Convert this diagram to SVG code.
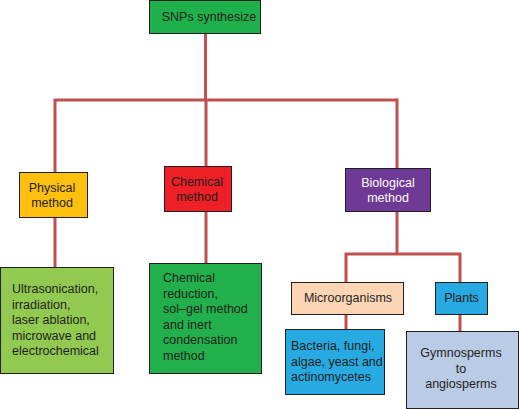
<svg xmlns="http://www.w3.org/2000/svg" width="520" height="409" viewBox="0 0 520 409">
<style>
.box{stroke:#231f20;stroke-width:1}
.t{font-family:"Liberation Sans",Arial,sans-serif;font-size:12.5px;fill:#231f20}
.c{text-anchor:middle}
.w{fill:#ffffff}
.ln{fill:none;stroke:#c0504d;stroke-width:3;stroke-linejoin:miter}
</style>
<rect width="520" height="409" fill="#ffffff"/>
<g id="connectors">
<path class="ln" d="M205.5,33 V100 M55,217 V100 H397 V168 M206,100 V166 M55,217 V267 M206,212 V263 M397,212 V254 M346,282 V254 H460 V282 M346,314 V329 M460,314 V331"/>
</g>
<g id="root">
<rect class="box" x="149.5" y="0.5" width="111" height="33" fill="#20b04b"/>
<text class="t c" x="209" y="20.5">SNPs synthesize</text>
</g>
<g id="physical">
<rect class="box" x="19.5" y="172.5" width="68" height="45" fill="#fdc00f"/>
<text class="t c" x="52" y="192">Physical</text>
<text class="t c" x="52" y="207">method</text>
</g>
<g id="chemical">
<rect class="box" x="164.5" y="166.5" width="67" height="45" fill="#ee1f26"/>
<text class="t c" x="197" y="186">Chemical</text>
<text class="t c" x="197" y="201">method</text>
</g>
<g id="biological">
<rect class="box" x="345.5" y="168.5" width="85" height="43" fill="#6f3996"/>
<text class="t c w" x="388" y="187">Biological</text>
<text class="t c w" x="388" y="202">method</text>
</g>
<g id="physical-list">
<rect class="box" x="0.5" y="267.5" width="113" height="106" fill="#92c951"/>
<text class="t" x="12" y="293">Ultrasonication,</text>
<text class="t" x="12" y="308.5">irradiation,</text>
<text class="t" x="12" y="324">laser ablation,</text>
<text class="t" x="12" y="339.5">microwave and</text>
<text class="t" x="12" y="355">electrochemical</text>
</g>
<g id="chemical-list">
<rect class="box" x="149.5" y="263.5" width="112" height="110" fill="#21b04b"/>
<text class="t" x="163" y="282">Chemical</text>
<text class="t" x="163" y="297.5">reduction,</text>
<text class="t" x="163" y="313">sol–gel method</text>
<text class="t" x="163" y="328.5">and inert</text>
<text class="t" x="163" y="344">condensation</text>
<text class="t" x="163" y="359.5">method</text>
</g>
<g id="microorganisms">
<rect class="box" x="291.5" y="282.5" width="112" height="32" fill="#fcd5b5"/>
<text class="t c" x="348" y="302">Microorganisms</text>
</g>
<g id="plants">
<rect class="box" x="435.5" y="282.5" width="52" height="32" fill="#27aae1"/>
<text class="t c" x="461.5" y="302">Plants</text>
</g>
<g id="micro-list">
<rect class="box" x="285.5" y="329.5" width="99" height="65" fill="#27aae1"/>
<text class="t" x="291" y="350">Bacteria, fungi,</text>
<text class="t" x="291" y="365.5">algae, yeast and</text>
<text class="t" x="291" y="381">actinomycetes</text>
</g>
<g id="plants-list">
<rect class="box" x="406.5" y="331.5" width="112" height="77" fill="#b9cbe5"/>
<text class="t c" x="461" y="357">Gymnosperms</text>
<text class="t c" x="461" y="372.5">to</text>
<text class="t c" x="461" y="388">angiosperms</text>
</g>
</svg>
